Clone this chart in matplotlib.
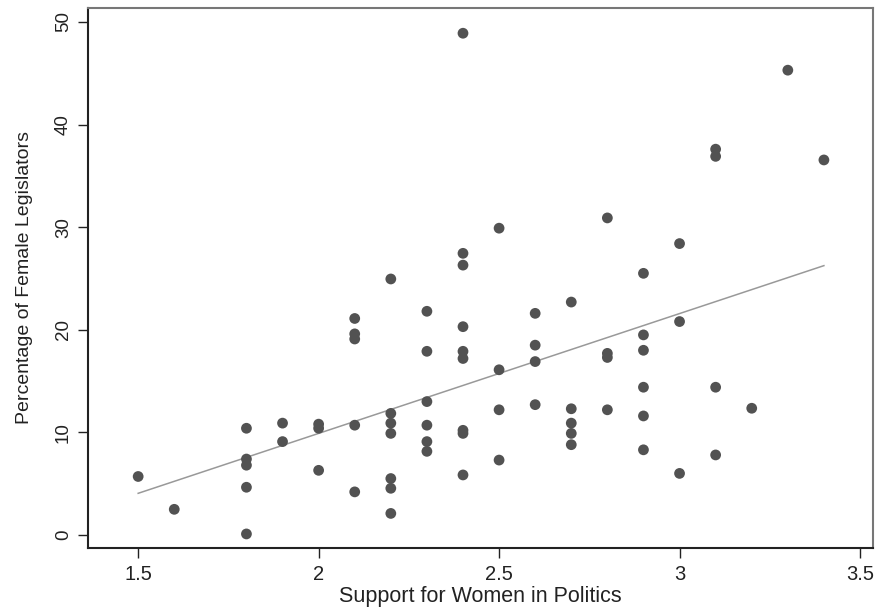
import numpy as np
import matplotlib
matplotlib.use("Agg")
import matplotlib.pyplot as plt

plt.rcParams['font.family'] = ['Liberation Sans', 'DejaVu Sans']

# support score -> percentages of female legislators at that score
support = [1.5, 1.6, 1.8, 1.9, 2.0, 2.1, 2.2, 2.3, 2.4, 2.5, 2.6, 2.7, 2.8, 2.9, 3.0, 3.1, 3.2, 3.3, 3.4]
female_pct = [
    [5.7],
    [2.5],
    [10.4, 7.4, 6.8, 4.65, 0.1],
    [10.9, 9.1],
    [10.8, 10.4, 6.3],
    [21.1, 19.6, 19.1, 10.7, 4.2],
    [24.95, 11.85, 10.9, 9.9, 5.5, 4.55, 2.1],
    [21.8, 17.9, 13.0, 10.7, 9.1, 8.15],
    [48.9, 27.45, 26.3, 20.3, 17.9, 17.2, 10.2, 9.9, 5.85],
    [29.9, 16.1, 12.2, 7.3],
    [21.6, 18.5, 16.9, 12.7],
    [22.7, 12.3, 10.9, 9.9, 8.8],
    [30.9, 17.7, 17.3, 12.2],
    [25.5, 19.5, 18.0, 14.4, 11.6, 8.3],
    [28.4, 20.8, 6.0],
    [37.6, 36.9, 14.4, 7.8],
    [12.35],
    [45.3],
    [36.55],
]

# fitted line
fit_x = [1.5, 3.4]
fit_y = [4.06, 26.25]

xs = np.concatenate([[s] * len(v) for s, v in zip(support, female_pct)])
ys = np.concatenate(female_pct)

fig = plt.figure(figsize=(8.78, 6.16), dpi=100)
ax = fig.add_axes([88 / 878, 1 - 548 / 616, (873 - 88) / 878, (548 - 8) / 616])

ax.scatter(xs, ys, s=60, c='#525252', edgecolors='none', zorder=3)
ax.plot(fit_x, fit_y, color='#999999', lw=1.1, zorder=2)

ax.set_xlim(1.361, 3.536)
ax.set_ylim(-1.27, 51.36)
ax.set_xticks([1.5, 2, 2.5, 3, 3.5])
ax.set_xticklabels(['1.5', '2', '2.5', '3', '3.5'])
ax.set_yticks([0, 10, 20, 30, 40, 50])
for lbl in ax.get_yticklabels():
    lbl.set_rotation(90)
    lbl.set_va('center')
ax.tick_params(direction='out', length=7, width=1, colors='#222222')
ax.tick_params(axis='x', labelsize=14.5, pad=5, labelcolor='#222222')
ax.tick_params(axis='y', labelsize=13.5, pad=4.5, labelcolor='#222222')

for side in ['left', 'bottom']:
    ax.spines[side].set_color('#222222')
    ax.spines[side].set_linewidth(1.5)
for side in ['top', 'right']:
    ax.spines[side].set_color('#777777')
    ax.spines[side].set_linewidth(1.5)

ax.set_xlabel('Support for Women in Politics', fontsize=15.5, labelpad=2, color='#222222')
ax.set_ylabel('Percentage of Female Legislators', fontsize=14, labelpad=16, color='#222222')

fig.savefig('out.png', dpi=100, facecolor='white')
